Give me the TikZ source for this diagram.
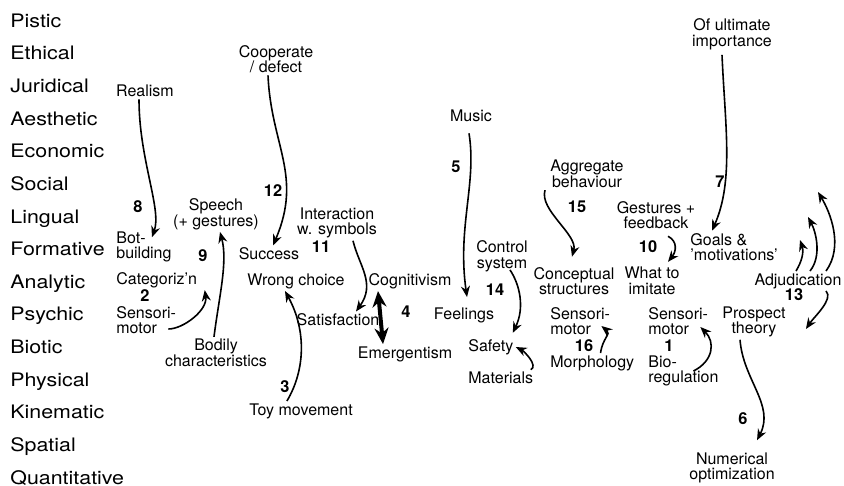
\documentclass[tikz,border=0pt]{standalone}
\usepackage{fontspec}
\setmainfont{TeX Gyre Heros}
\newfontfamily\rowfont{TeX Gyre Heros}[FakeStretch=1.15]
\usetikzlibrary{arrows.meta}
\tikzset{
  aspect/.style={anchor=base west, inner sep=0pt, font=\rowfont\fontsize{9.3}{11}\selectfont},
  lbl/.style={inner sep=1pt, align=center, font=\fontsize{8}{7.8}\selectfont},
  lbll/.style={lbl, align=left, anchor=west},
  num/.style={inner sep=0pt, font=\fontsize{8.2}{9}\selectfont\bfseries},
  arr/.style={line width=0.8pt, -{Stealth[length=5.5pt,width=4.5pt]}},
  darr/.style={line width=2pt, {Stealth[length=8pt,width=7pt]}-{Stealth[length=8pt,width=7pt]}}
}
\begin{document}
\begin{tikzpicture}[x=0.5pt,y=-0.5pt]
	\useasboundingbox (0,0) rectangle (844,486);
	
	\foreach \asp [count=\i from 0] in {Pistic,Ethical,Juridical,Aesthetic,Economic,Social,Lingual,Formative,Analytic,Psychic,Biotic,Physical,Kinematic,Spatial,Quantitative}
		\node[aspect] (asp\i) at (10,{27.3+32.63*\i}) {\asp};
	
	\node[lbl] (realism) at (145,91) {Realism};
	\node[lbl] (coop) at (276,59) {Cooperate\\/ defect};
	\node[lbl] (speech) at (216,214) {Speech\\(+ gestures)};
	\node[lbll] (botb) at (114,247) {Bot-\\building};
	\node[lbl] (success) at (269,254) {Success};
	\node[lbl] (inter) at (337,223) {Interaction\\w. symbols};
	\node[lbll] (categ) at (114,280) {Categoriz'n};
	\node[lbl] (wrong) at (296,281) {Wrong choice};
	\node[lbl] (cogn) at (410,281) {Cognitivism};
	\node[lbll] (sm2) at (114,320) {Sensori-\\motor};
	\node[lbl] (satis) at (338,320) {Satisfaction};
	\node[lbl] (emerg) at (405,354) {Emergentism};
	\node[lbl] (bodily) at (216,353) {Bodily\\characteristics};
	\node[lbl] (toy) at (301,411) {Toy movement};
	\node[lbl] (music) at (471,116) {Music};
	\node[lbl] (aggr) at (587,174) {Aggregate\\behaviour};
	\node[lbl] (control) at (502,256) {Control\\system};
	\node[lbl] (concept) at (574,281) {Conceptual\\structures};
	\node[lbl] (feel) at (464,315) {Feelings};
	\node[lbll] (safety) at (466,347) {Safety};
	\node[lbll] (mater) at (466,378) {Materials};
	\node[lbll] (sm16) at (548,321) {Sensori-\\motor};
	\node[lbll] (morph) at (548,363) {Morphology};
	\node[lbl] (gest) at (656,215) {Gestures +\\feedback};
	\node[lbl] (what) at (652,281) {What to\\imitate};
	\node[lbll] (goals) at (688,247) {Goals \&\\'motivations'};
	\node[lbl] (ultim) at (732,34) {Of ultimate\\importance};
	\node[lbl] (adjud) at (798,281) {Adjudication};
	\node[lbl] (prosp) at (754,322) {Prospect\\theory};
	\node[lbll] (sm1) at (646,321) {Sensori-\\motor};
	\node[lbll] (bioreg) at (646,371) {Bio-\\regulation};
	\node[lbl] (numopt) at (732,468) {Numerical\\optimization};
	
	\foreach \n/\x/\y in {1/669/346,2/145/296,3/285/387,4/406/312,5/456/167,6/743/419,7/720/182,8/138/207,9/203/256,10/648/247,11/321/247,12/273/191,13/794/295,14/495/290,15/577/207,16/584/346}
		\node[num] (n\n) at (\x,\y) {\n};
	
	\coordinate (up1) at (800,240);
	\coordinate (up2) at (808,217);
	\coordinate (up3) at (818,192);
	
	\draw[arr] ([xshift=-3]realism.south) .. controls +(0,60) and +(10,-28) .. ([shift={(8,8)}]botb.north);
	\draw[arr] ([xshift=-4]coop.south) .. controls +(3,70) and +(30,-70) .. ([xshift=2]success.north);
	\draw[arr] ([xshift=-1]bodily.north) .. controls +(5,-40) and +(8,30) .. ([xshift=2]speech.south);
	\draw[arr] ([shift={(-10,9)}]sm2.east) .. controls +(15,0) and +(3,20) .. ([xshift=24]categ.south);
	\draw[arr] ([xshift=20]toy.north west) .. controls +(18,-30) and +(22,40) .. ([xshift=20]wrong.south west);
	\draw[arr] ([xshift=8]inter.south) .. controls +(6,25) and +(20,-28) .. ([xshift=9]satis.north);
	\draw[darr] ([xshift=-16]cogn.south) -- ([xshift=-11]emerg.north);
	\draw[arr] ([shift={(-2,9)}]music.south) .. controls +(8,50) and +(-10,-70) .. ([shift={(3,-8)}]feel.north);
	\draw[arr] ([shift={(8,-4)}]control.south) .. controls +(10,15) and +(12,-25) .. ([shift={(-3,-4)}]safety.north east);
	\draw[arr] ([xshift=15]mater.north) .. controls +(8,-4) and +(8,4) .. (safety.east);
	\draw[arr] ([xshift=-21]aggr.south) .. controls +(-6,20) and +(6,-22) .. ([shift={(-2,-8)}]concept.north);
	\draw[arr] ([xshift=-18]morph.north east) .. controls +(2,-15) and +(10,8) .. ([shift={(-11,5)}]sm16.east);
	\draw[arr] ([xshift=5]bioreg.center) .. controls +(20,-10) and +(15,15) .. ([shift={(-10,6)}]sm1.east);
	\draw[arr] ([shift={(12,5)}]gest.south) .. controls +(10,5) and +(8,-10) .. ([shift={(16,-3)}]what.north);
	\draw[arr] ([shift={(-10,3)}]ultim.south) .. controls +(3,70) and +(22,-50) .. ([xshift=-11]goals.north);
	\draw[arr] ([xshift=-7]prosp.south) .. controls +(3,40) and +(18,-35) .. ([shift={(25,-10)}]numopt.north);
	\draw[arr] ([xshift=-1]adjud.north) .. controls +(6,-10) and +(4,12) .. (up1);
	\draw[arr] ([xshift=6]adjud.north) .. controls +(12,-15) and +(8,15) .. (up2);
	\draw[arr] ([xshift=14]adjud.north) .. controls +(18,-25) and +(12,20) .. (up3);
	\draw[arr] ([xshift=14]adjud.south) .. controls +(8,8) and +(8,-12) .. ([shift={(18,7)}]prosp.east);
\end{tikzpicture}
\end{document}
